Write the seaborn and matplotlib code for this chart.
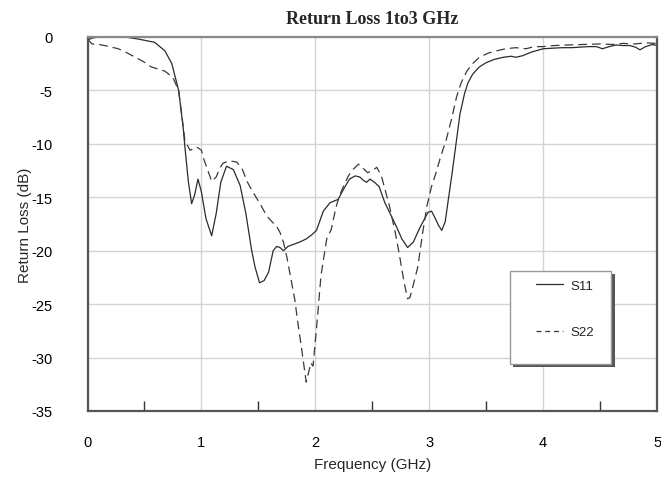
import numpy as np
import pandas as pd
import matplotlib
matplotlib.use("Agg")
import matplotlib.pyplot as plt
import seaborn as sns
from matplotlib.lines import Line2D
from matplotlib.patches import Rectangle

# ── Data ─────────────────────────────────────────────────────────────────────

s11_freq = [0.0, 0.04, 0.1, 0.2, 0.33, 0.45, 0.59, 0.68, 0.74, 0.80, 0.84, 0.855,
            0.885, 0.914, 0.94, 0.97, 1.0, 1.04, 1.09, 1.13, 1.17, 1.22, 1.28,
            1.34, 1.39, 1.44, 1.47, 1.51, 1.55, 1.59, 1.63, 1.66, 1.69, 1.72,
            1.76, 1.81, 1.86, 1.92, 1.97, 2.01, 2.07, 2.13, 2.2, 2.25, 2.3,
            2.35, 2.39, 2.42, 2.45, 2.48, 2.52, 2.56, 2.61, 2.66, 2.71, 2.76,
            2.81, 2.86, 2.92, 2.96, 2.99, 3.02, 3.05, 3.08, 3.11, 3.14, 3.16,
            3.20, 3.24, 3.27, 3.31, 3.34, 3.38, 3.44, 3.50, 3.57, 3.65, 3.72,
            3.76, 3.82, 3.9, 4.0, 4.08, 4.17, 4.25, 4.32, 4.4, 4.47, 4.52, 4.58,
            4.64, 4.7, 4.76, 4.81, 4.85, 4.9, 4.96, 5.0]
s11_db = [-0.3, -0.1, 0.0, 0.05, 0.0, -0.2, -0.5, -1.3, -2.5, -5.0, -8.5, -10.3,
          -13.5, -15.6, -14.8, -13.3, -14.5, -17.0, -18.6, -16.5, -13.6, -12.1, -12.4,
          -13.9, -16.5, -19.9, -21.5, -23.0, -22.8, -22.0, -20.0, -19.6, -19.7, -20.0,
          -19.6, -19.4, -19.2, -18.9, -18.5, -18.1, -16.3, -15.5, -15.2, -14.2, -13.3,
          -13.0, -13.1, -13.4, -13.6, -13.3, -13.6, -14.0, -15.5, -16.6, -17.7, -18.9,
          -19.7, -19.2, -17.8, -17.0, -16.4, -16.3, -16.9, -17.6, -18.1, -17.3, -15.8,
          -12.8, -9.6, -7.2, -5.3, -4.3, -3.5, -2.8, -2.4, -2.1, -1.9, -1.8,
          -1.9, -1.75, -1.4, -1.1, -1.05, -1.0, -1.0, -0.95, -0.9, -0.9, -1.1, -0.9,
          -0.75, -0.8, -0.8, -0.95, -1.2, -0.9, -0.7, -0.8]

s22_freq = [0.0, 0.04, 0.1, 0.15, 0.27, 0.35, 0.42, 0.49, 0.56, 0.62, 0.68, 0.75,
            0.80, 0.83, 0.855, 0.90, 0.96, 1.0, 1.02, 1.06, 1.09, 1.13, 1.16,
            1.19, 1.25, 1.31, 1.36, 1.40, 1.44, 1.48, 1.52, 1.57, 1.62, 1.66,
            1.69, 1.72, 1.75, 1.78, 1.82, 1.85, 1.88, 1.92, 1.95, 1.96, 1.98,
            2.01, 2.05, 2.10, 2.14, 2.18, 2.21, 2.25, 2.29, 2.33, 2.38, 2.42,
            2.46, 2.50, 2.54, 2.58, 2.61, 2.65, 2.70, 2.74, 2.78, 2.81, 2.83,
            2.86, 2.90, 2.94, 2.98, 3.02, 3.06, 3.10, 3.15, 3.20, 3.24, 3.28,
            3.33, 3.38, 3.44, 3.52, 3.59, 3.67, 3.76, 3.85, 3.92, 4.0, 4.1,
            4.2, 4.35, 4.5, 4.6, 4.7, 4.8, 4.9, 5.0]
s22_db = [-0.2, -0.65, -0.7, -0.8, -1.1, -1.5, -1.9, -2.3, -2.8, -3.0, -3.2, -3.8,
          -5.0, -7.5, -9.7, -10.6, -10.3, -10.6, -11.4, -12.6, -13.5, -13.1, -12.3,
          -11.8, -11.6, -11.7, -12.4, -13.5, -14.3, -15.0, -15.7, -16.7, -17.3, -17.7,
          -18.3, -19.2, -20.6, -22.3, -24.6, -27.0, -29.2, -32.3, -31.0, -30.5, -30.8,
          -27.3, -22.3, -18.9, -18.0, -16.0, -14.9, -13.9, -13.0, -12.4, -11.9, -12.3,
          -12.7, -12.5, -12.2, -13.0, -14.2, -15.8, -18.2, -20.5, -23.0, -24.5, -24.4,
          -23.2, -21.5, -18.5, -15.8, -14.0, -12.7, -11.2, -9.6, -7.5, -5.6, -4.3,
          -3.2, -2.5, -1.9, -1.5, -1.3, -1.1, -1.0, -1.1, -0.9, -0.9, -0.8,
          -0.75, -0.7, -0.65, -0.7, -0.6, -0.65, -0.55, -0.6]

x_ticks = [0, 1, 2, 3, 4, 5]
y_ticks = [0, -5, -10, -15, -20, -25, -30, -35]

# ── Plot ─────────────────────────────────────────────────────────────────────

sns.set_style("white")
plt.rcParams["font.family"] = ["Liberation Sans", "DejaVu Sans"]
plt.rcParams["axes.unicode_minus"] = False

df = pd.concat([
    pd.DataFrame({"freq": s11_freq, "db": s11_db, "trace": "S11"}),
    pd.DataFrame({"freq": s22_freq, "db": s22_db, "trace": "S22"}),
])

fig = plt.figure(figsize=(6.61, 4.81), dpi=100)
ax = fig.add_axes([0.1324, 0.1435, 0.8616, 0.7775])

sns.lineplot(data=df, x="freq", y="db", hue="trace", style="trace",
             palette={"S11": "#2b2b2b", "S22": "#3a3a3a"},
             dashes={"S11": "", "S22": (7, 4)},
             linewidth=0.9, ax=ax, legend=False, sort=False)

ax.set_xlim(0, 5)
ax.set_ylim(-35, 0)
ax.set_xticks(x_ticks)
ax.set_yticks(y_ticks)
ax.set_xticks([0.5, 1.5, 2.5, 3.5, 4.5], minor=True)
ax.grid(True, which="major", color="#d4d4d4", linewidth=1.0)
ax.tick_params(axis="both", which="major", length=0, labelsize=10.5, colors="black")
ax.tick_params(axis="x", which="major", pad=17)
ax.tick_params(axis="y", which="major", pad=25)
ax.tick_params(axis="x", which="minor", direction="in", length=7, width=1.0,
               color="#333333", bottom=True)

for name, sp in ax.spines.items():
    sp.set_visible(True)
    sp.set_linewidth(1.6)
    sp.set_color("#555555")
ax.spines["top"].set_color("#8a8a8a")

ax.set_xlabel("Frequency (GHz)", fontsize=11, labelpad=6)
ax.set_ylabel("Return Loss (dB)", fontsize=11, labelpad=0)
ax.set_title("Return Loss 1to3 GHz", fontsize=13, fontweight="bold",
             family="Liberation Serif", pad=10)

# legend: framed box with a dark drop shadow, entries placed near the top
box_x, box_y, box_w, box_h = 0.741, 0.126, 0.179, 0.248
shadow = Rectangle((box_x + 0.006, box_y - 0.009), box_w, box_h,
                   transform=ax.transAxes, facecolor="#555555",
                   edgecolor="none", zorder=5)
frame = Rectangle((box_x, box_y), box_w, box_h, transform=ax.transAxes,
                  facecolor="white", edgecolor="#999999", linewidth=1.0, zorder=6)
ax.add_patch(shadow)
ax.add_patch(frame)

handles = [Line2D([], [], color="#2b2b2b", linewidth=0.9),
           Line2D([], [], color="#3a3a3a", linewidth=0.9, dashes=(4, 3))]
leg = ax.legend(handles, ["S11", "S22"], loc="upper left",
                bbox_to_anchor=(0.781, 0.362), fontsize=9.5, frameon=False,
                borderpad=0.3, labelspacing=2.6, handlelength=2.0,
                handletextpad=0.6, borderaxespad=0)
leg.set_zorder(7)

fig.savefig("out.png", dpi=100)
